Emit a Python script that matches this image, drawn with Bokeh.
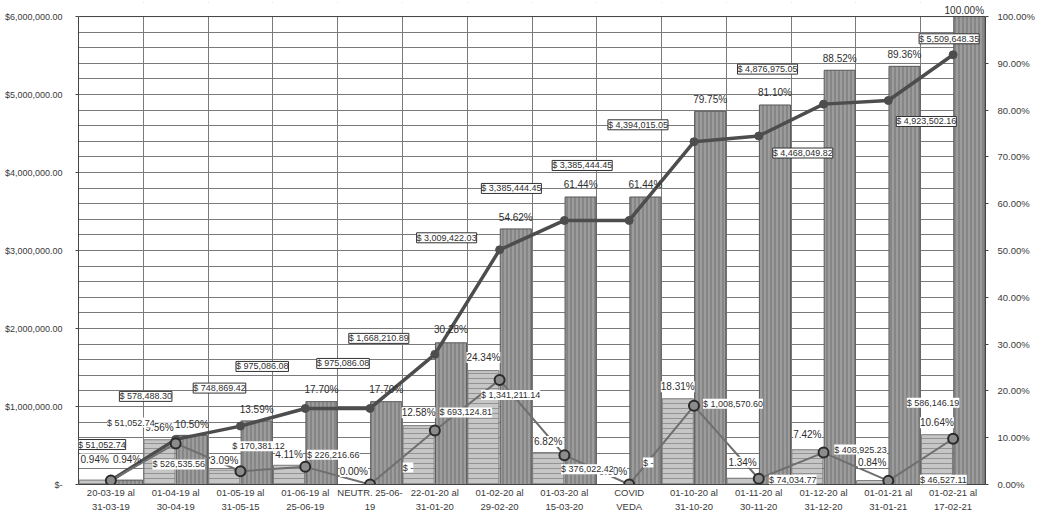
from bokeh.plotting import figure
from bokeh.models import (ColumnDataSource, FactorRange, Range1d, LinearAxis, FixedTicker,
                          PrintfTickFormatter, CustomJSTickFormatter, LabelSet, BoxAnnotation, Span)
from bokeh.transform import dodge
from bokeh.core.properties import value
from bokeh.embed import file_html
from bokeh.resources import INLINE

categories = ["20-03-19 al\n31-03-19", "01-04-19 al\n30-04-19", "01-05-19 al\n31-05-15",
              "01-06-19 al\n25-06-19", "NEUTR. 25-06-\n19", "22-01-20 al\n31-01-20",
              "01-02-20 al\n29-02-20", "01-03-20 al\n15-03-20", "COVID\nVEDA",
              "01-10-20 al\n31-10-20", "01-11-20 al\n30-11-20", "01-12-20 al\n31-12-20",
              "01-01-21 al\n31-01-21", "01-02-21 al\n17-02-21"]
period_amount = [51052.74, 526535.56, 170381.12, 226216.66, 0.0, 693124.81, 1341211.14,
                 376022.42, 0.0, 1008570.60, 74034.77, 408925.23, 46527.11, 586146.19]
cum_amount = [51052.74, 578488.30, 748869.42, 975086.08, 975086.08, 1668210.89, 3009422.03,
              3385444.45, 3385444.45, 4394015.05, 4468049.82, 4876975.05, 4923502.16, 5509648.35]
period_pct = [0.94, 9.56, 3.09, 4.11, 0.00, 12.58, 24.34, 6.82, 0.00, 18.31, 1.34, 7.42, 0.84, 10.64]
cum_pct = [0.94, 10.50, 13.59, 17.70, 17.70, 30.28, 54.62, 61.44, 61.44, 79.75, 81.10, 88.52, 89.36, 100.00]
amount_axis_max = 6000000
pct_axis_max = 100

# label placement (screen pixels, style only)
cum_amt_dx = [-9, -30, -21, -43, -27, -56, -53, -53, -47, -56, 44, -56, 38, -4]
cum_amt_dy = [36, 43, 38, 42, 45, 16, 12, 32, 55, 17, -17, 35, -21, 16]
per_amt_dx = [20, 3, 18, 28, 38, 31, 11, 23, 19, 39, 34, 37, 55, -20]
per_amt_dy = [58, -21, 25, 12, 17, 18, -15, -14, 22, 2, -1, 3, 1, 36]
per_pct_dy = [21, 12, 10, 11, 13, 13, 13, 11, 13, 12, 16, 15, 18, 12]
cum_pct_dx = [0, 0, 0, 0, 0, 0, 0, 0, 0, 0, 0, 0, 0, -5]
cum_pct_dy = [21, 11, 11, 12, 12, 13, 11, 12, 12, 12, 12, 12, 12, 6]
headroom = 0.03  # extra space above the plot box so top labels stay visible


def money(v):
    return "$ -" if v == 0 else "$ {:,.2f}".format(v)


n = len(categories)
src = ColumnDataSource(dict(
    cat=categories, period_amount=period_amount, cum_amount=cum_amount,
    period_pct=period_pct, cum_pct=cum_pct,
    per_amt_txt=[money(v) for v in period_amount],
    per_pct_txt=["{:.2f}%".format(v) for v in period_pct],
    cum_amt_txt=[money(v) for v in cum_amount],
    cum_pct_txt=["{:.2f}%".format(v) for v in cum_pct],
    per_amt_dx=per_amt_dx, per_amt_dy=per_amt_dy, per_pct_dy=per_pct_dy,
    cum_amt_dx=cum_amt_dx, cum_amt_dy=cum_amt_dy, cum_pct_dx=cum_pct_dx, cum_pct_dy=cum_pct_dy,
))

FONT = "Liberation Sans"

p = figure(x_range=FactorRange(*categories),
           y_range=Range1d(0, amount_axis_max * (1 + headroom)),
           width=1041, height=515, output_backend="svg", toolbar_location=None,
           min_border_left=78, min_border_right=56, min_border_top=2, min_border_bottom=22,
           background_fill_color="white", border_fill_color="white")
p.extra_y_ranges = {"pct": Range1d(0, pct_axis_max * (1 + headroom))}
p.outline_line_color = None

# grid
p.xgrid.ticker = FixedTicker(ticks=list(range(0, n + 1)))
p.ygrid.ticker = FixedTicker(ticks=list(range(0, amount_axis_max + 1, 200000)))
for g in (p.xgrid, p.ygrid):
    g.grid_line_color = "#7a7a7a"
    g.grid_line_width = 1

# axes
p.yaxis.ticker = FixedTicker(ticks=list(range(0, amount_axis_max + 1, 1000000)))
p.yaxis.formatter = CustomJSTickFormatter(code="""
    if (tick == 0) { return '$-'; }
    return '$' + tick.toLocaleString('en-US', {minimumFractionDigits: 2, maximumFractionDigits: 2});
""")
p.yaxis.bounds = (0, amount_axis_max)
right = LinearAxis(y_range_name="pct", ticker=FixedTicker(ticks=list(range(0, pct_axis_max + 1, 10))),
                   formatter=PrintfTickFormatter(format="%.2f%%"), bounds=(0, pct_axis_max))
p.add_layout(right, "right")

for ax in (p.yaxis[0], right):
    ax.axis_line_color = "#444444"
    ax.major_tick_line_color = "#444444"
    ax.major_tick_out = 3
    ax.major_tick_in = 0
    ax.minor_tick_line_color = None
    ax.major_label_text_color = "#3a3a3a"
    ax.major_label_text_font = FONT
p.yaxis[0].major_label_text_font_size = "9px"
p.yaxis[0].major_label_standoff = 13
right.major_label_text_font_size = "9.5px"
right.major_label_standoff = 9

p.xaxis.major_label_text_font = FONT
p.xaxis.major_label_text_font_size = "9.5px"
p.xaxis.major_label_text_color = "#3a3a3a"
p.xaxis.major_label_standoff = 2
p.xaxis.major_tick_out = 0
p.xaxis.major_tick_in = 0
p.xaxis.major_tick_line_color = None
p.xaxis.axis_line_color = "#444444"
p.xaxis.major_label_text_line_height = 1.35

# bars
p.vbar(x=dodge("cat", -0.25, range=p.x_range), top="period_pct", width=0.48, source=src,
       y_range_name="pct", fill_color="#c6c6c6", line_color="#7a7a7a",
       hatch_pattern="horizontal_line", hatch_color="#939393", hatch_scale=5, hatch_weight=1)
p.vbar(x=dodge("cat", 0.25, range=p.x_range), top="cum_pct", width=0.48, source=src,
       y_range_name="pct", fill_color="#9c9c9c", line_color="#5a5a5a",
       hatch_pattern="vertical_line", hatch_color="#707070", hatch_scale=4, hatch_weight=1)

# lines
p.line(x="cat", y="cum_amount", source=src, line_color="#4d4d4d", line_width=3.5)
p.scatter(x="cat", y="cum_amount", source=src, size=8, fill_color="#4d4d4d", line_color="#4d4d4d")
p.line(x="cat", y="period_amount", source=src, line_color="#6f6f6f", line_width=2)
p.scatter(x="cat", y="period_amount", source=src, size=10, fill_color="#8c8c8c",
          line_color="#2b2b2b", line_width=2)

# white strip above the plot box, and the box's top edge
p.add_layout(BoxAnnotation(bottom=amount_axis_max, fill_color="white", fill_alpha=1,
                           line_color=None))
p.add_layout(Span(location=amount_axis_max, dimension="width", line_color="#444444",
                  line_width=1))

# labels
base = dict(text_font=value(FONT), text_color="#2e2e2e", text_align="center",
            text_baseline="middle")
p.add_layout(LabelSet(source=src, x=dodge("cat", 0.25, range=p.x_range), y="cum_pct",
                      text="cum_pct_txt", x_offset="cum_pct_dx", y_offset="cum_pct_dy",
                      y_range_name="pct", text_font_size="10px", **base))
p.add_layout(LabelSet(source=src, x=dodge("cat", -0.25, range=p.x_range), y="period_pct",
                      text="per_pct_txt", y_offset="per_pct_dy", y_range_name="pct",
                      background_fill_color="white", text_font_size="10px", **base))
p.add_layout(LabelSet(source=src, x="cat", y="period_amount", text="per_amt_txt",
                      x_offset="per_amt_dx", y_offset="per_amt_dy", text_font_size="9px",
                      background_fill_color="white", **base))
p.add_layout(LabelSet(source=src, x="cat", y="cum_amount", text="cum_amt_txt",
                      x_offset="cum_amt_dx", y_offset="cum_amt_dy", text_font_size="9px",
                      background_fill_color="white", border_line_color="#333333",
                      border_line_width=1, **base))

open("out.html", "w").write(file_html(p, INLINE))
